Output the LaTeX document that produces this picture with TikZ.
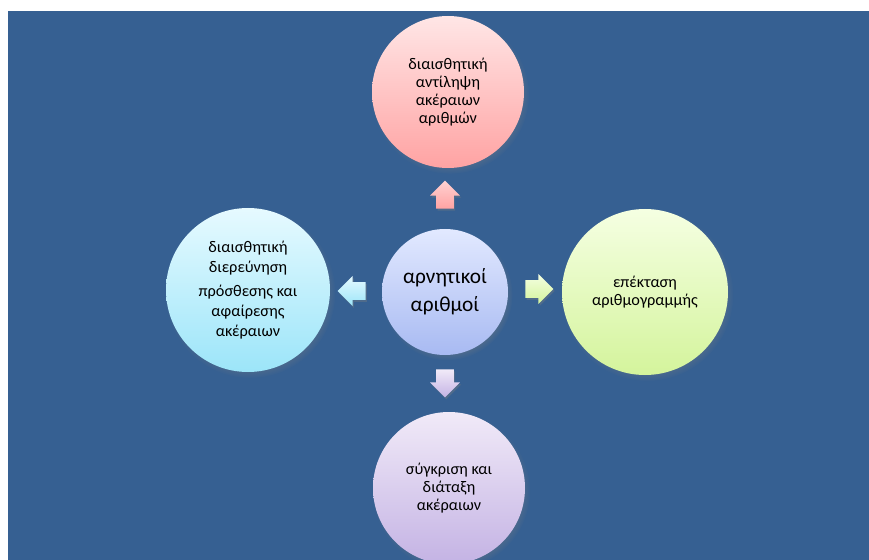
\documentclass[tikz,border=0pt]{standalone}
\usepackage{fontspec}
\setmainfont{Carlito}
\usetikzlibrary{shapes.arrows,shadows}

\definecolor{slide}{HTML}{366092}
\definecolor{rosetop}{HTML}{FFE6E6}
\definecolor{rosebot}{HTML}{FFA3A3}
\definecolor{coretop}{HTML}{E2E9FF}
\definecolor{corebot}{HTML}{A8BAF2}
\definecolor{skytop}{HTML}{E6FAFF}
\definecolor{skybot}{HTML}{9CE5F9}
\definecolor{limetop}{HTML}{F5FFE2}
\definecolor{limebot}{HTML}{D4F49C}
\definecolor{liltop}{HTML}{F1EAF8}
\definecolor{lilbot}{HTML}{C4B3E4}

\begin{document}
\begin{tikzpicture}[x=0.75pt,y=-0.75pt]
\tikzset{
  bubble/.style={circle, inner sep=0pt, minimum size=#1*0.75pt, align=center,
    font=\fontsize{12.2}{13.6}\selectfont,
    circular drop shadow={shadow scale=1.04, shadow xshift=1.5pt, shadow yshift=-2pt, opacity=0.45}},
  pointer/.style={single arrow, shape border rotate=#1, inner sep=6.4pt,
    minimum height=21pt, minimum width=22pt, single arrow head extend=4.6pt,
    single arrow head indent=0pt,
    drop shadow={shadow xshift=1pt, shadow yshift=-1.5pt, opacity=0.35}}
}
\useasboundingbox (0,0) rectangle (869,560);
\fill[slide] (8,11) rectangle (869,560);

% the five circles
\node[bubble=126, top color=coretop, bottom color=corebot,
  font=\fontsize{16}{21}\selectfont] (core) at (445,292) {αρνητικοί\\αριθμοί};
\node[bubble=152, top color=rosetop, bottom color=rosebot] (percept) at (448,92)
  {διαισθητική\\αντίληψη\\ακέραιων\\αριθμών};
\node[bubble=164, top color=skytop, bottom color=skybot,
  font=\fontsize{12.2}{15}\selectfont] (addsub) at (248,290)
  {διαισθητική\\διερεύνηση\\[3pt]πρόσθεσης και\\αφαίρεσης\\ακέραιων};
\node[bubble=166, top color=limetop, bottom color=limebot,
  font=\fontsize{12.2}{14}\selectfont] (numline) at (645,292)
  {επέκταση\\αριθμογραμμής};
\node[bubble=152, top color=liltop, bottom color=lilbot] (order) at (449,488)
  {σύγκριση και\\διάταξη\\ακέραιων};

% block arrows between them
\node[pointer=90, top color=rosetop!70!rosebot, bottom color=rosebot] (toup) at (445,199) {};
\node[pointer=0, top color=limetop, bottom color=limebot] (toright) at (535,289) {};
\node[pointer=180, top color=skytop, bottom color=skybot] (toleft) at (356,291) {};
\node[pointer=270, top color=liltop, bottom color=lilbot] (todown) at (445,379) {};
\end{tikzpicture}
\end{document}
